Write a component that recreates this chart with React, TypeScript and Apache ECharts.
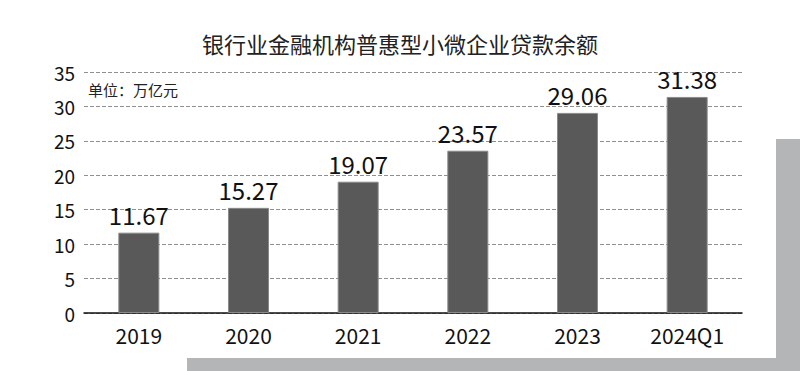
import React, { useEffect, useRef } from "react";
import * as echarts from "echarts";

const categories = ["2019", "2020", "2021", "2022", "2023", "2024Q1"];
const values = [11.67, 15.27, 19.07, 23.57, 29.06, 31.38];
const titleText = "银行业金融机构普惠型小微企业贷款余额";
const unitText = "单位：万亿元";

const FONT = "'Noto Sans CJK SC', 'Noto Sans', sans-serif";

export default function App() {
  const ref = useRef<HTMLDivElement>(null);
  useEffect(() => {
    if (!ref.current) return;
    const chart = echarts.init(ref.current, undefined, { renderer: "svg" });
    chart.setOption({
      animation: false,
      backgroundColor: "#ffffff",
      title: {
        text: titleText,
        left: "center",
        top: 27,
        textStyle: { fontFamily: FONT, fontSize: 22, fontWeight: "normal", color: "#222" },
      },
      graphic: {
        elements: [
          {
            type: "rect",
            z: -100,
            shape: { x: 187, y: 139, width: 613, height: 232 },
            style: { fill: "#b4b5b7" },
            silent: true,
          },
          {
            type: "rect",
            z: -99,
            shape: { x: 0, y: 0, width: 776, height: 358 },
            style: { fill: "#ffffff" },
            silent: true,
          },
          {
            type: "text",
            left: 88,
            top: 82,
            style: { text: unitText, fontFamily: FONT, fontSize: 15, fill: "#222" },
          },
        ],
      },
      grid: { left: 84, right: 58, top: 72, bottom: 58, containLabel: false },
      xAxis: {
        type: "category",
        data: categories,
        axisTick: { show: false },
        axisLine: { lineStyle: { color: "#111", width: 1.5 } },
        axisLabel: { fontFamily: FONT, fontSize: 21, color: "#111", margin: 11 },
      },
      yAxis: {
        type: "value",
        min: 0,
        max: 35,
        interval: 5,
        axisLine: { show: false },
        axisTick: { show: false },
        axisLabel: { fontFamily: FONT, fontSize: 19, color: "#111", margin: 9 },
        splitLine: { lineStyle: { color: "#8f8f8f", type: [4, 2], width: 1 } },
      },
      series: [
        {
          type: "bar",
          data: values,
          barWidth: 41,
          itemStyle: { color: "#595959", borderColor: "#8a8a8a", borderWidth: 1 },
          label: {
            show: true,
            position: "top",
            distance: 6,
            fontFamily: FONT,
            fontSize: 24,
            letterSpacing: -1,
            color: "#111",
            formatter: (p: any) => p.value.toFixed(2),
          },
        },
      ],
    });
    return () => chart.dispose();
  }, []);
  return (
    <div
      ref={ref}
      style={{ position: "absolute", left: 0, top: 0, width: 800, height: 371 }}
    />
  );
}
